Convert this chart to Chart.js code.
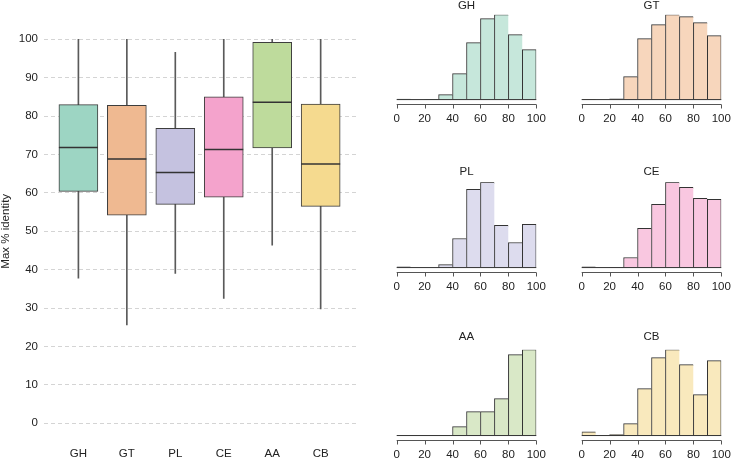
<!DOCTYPE html>
<html>
<head>
<meta charset="utf-8">
<title>Max % identity</title>
<script src="https://cdn.jsdelivr.net/npm/chart.js@4.4.1/dist/chart.umd.min.js"></script>
<style>
  html, body { margin: 0; padding: 0; background: #fff; overflow: hidden; }
  #wrap { position: relative; width: 731px; height: 459px; overflow: hidden; }
  canvas { position: absolute; }
</style>
</head>
<body>
<div id="wrap">
  <canvas id="boxChart" width="360" height="459" style="left:0;top:0"></canvas>
  <canvas id="histGH" width="165" height="129" style="left:385px;top:-1px"></canvas>
  <canvas id="histGT" width="165" height="129" style="left:570px;top:-1px"></canvas>
  <canvas id="histPL" width="165" height="131" style="left:385px;top:165px"></canvas>
  <canvas id="histCE" width="165" height="131" style="left:570px;top:165px"></canvas>
  <canvas id="histAA" width="165" height="134" style="left:385px;top:330px"></canvas>
  <canvas id="histCB" width="165" height="134" style="left:570px;top:330px"></canvas>
</div>
<script>
// Boxplot data (Max % identity per group)
const groups = ['GH', 'GT', 'PL', 'CE', 'AA', 'CB'];
const whiskerLow = [37.8, 25.6, 39.0, 32.5, 46.4, 29.8];
const quart1 = [60.4, 54.2, 57.0, 58.9, 71.7, 56.5];
const medians = [71.8, 68.8, 65.3, 71.3, 83.6, 67.5];
const quart3 = [83.0, 82.8, 76.8, 85.0, 99.2, 83.1];
const whiskerHigh = [100, 100, 96.6, 100, 100, 100];
const yTicks = [0, 10, 20, 30, 40, 50, 60, 70, 80, 90, 100];

// Histogram data (10-wide bins from 0 to 100)
const binMids = [5, 15, 25, 35, 45, 55, 65, 75, 85, 95];
const histTicks = [0, 20, 40, 60, 80, 100];
const histGH = [0.5, 0, 0.3, 5, 26, 57, 81, 85, 65, 50];
const histGT = [0.3, 0, 0.7, 23, 61, 75, 85, 83, 77, 64];
const histPL = [0.7, 0, 0, 3, 29, 78, 85, 42, 25, 43];
const histCE = [0.7, 0, 0.3, 10, 39, 63, 85, 80, 69, 68];
const histAA = [0, 0, 0, 0, 9, 24, 24, 37, 81, 86];
const histCB = [3.7, 0, 1, 12, 47, 78, 86, 71, 41, 75];

const boxColors = ['#9dd5c3', '#efb991', '#c5c2e0', '#f4a3cc', '#bedb9c', '#f5da8f'];
const histColors = ['#c6e7db', '#f7d6bc', '#dddcee', '#f9c7e0', '#d9e8c7', '#f9e9bd'];

Chart.defaults.font.family = "'Liberation Sans', Arial, sans-serif";
Chart.defaults.font.size = 11.5;
Chart.defaults.color = '#222';

// median lines across each box
const medianPlugin = {
    id: 'medians',
    afterDatasetsDraw(chart) {
        const { ctx, scales: { y } } = chart;
        const boxes = chart.getDatasetMeta(0).data;
        ctx.save();
        ctx.strokeStyle = '#333';
        ctx.lineWidth = 1.5;
        medians.forEach((m, i) => {
            const bar = boxes[i];
            const py = y.getPixelForValue(m);
            ctx.beginPath();
            ctx.moveTo(bar.x - bar.width / 2, py);
            ctx.lineTo(bar.x + bar.width / 2, py);
            ctx.stroke();
        });
        ctx.restore();
    }
};

// bar baseline (shows empty bins) plus the detached x axis with tick marks
const histAxisPlugin = {
    id: 'histAxis',
    afterDatasetsDraw(chart) {
        const { ctx, chartArea, scales: { x, y } } = chart;
        const x0 = x.getPixelForValue(histTicks[0]);
        const x1 = x.getPixelForValue(histTicks[histTicks.length - 1]);
        const base = y.getPixelForValue(0);
        const axisY = Math.round(chartArea.bottom) + 0.5;
        ctx.save();
        ctx.lineWidth = 1;
        ctx.strokeStyle = '#333';
        ctx.beginPath();
        ctx.moveTo(x0, base);
        ctx.lineTo(x1, base);
        ctx.stroke();
        ctx.strokeStyle = '#555';
        ctx.beginPath();
        ctx.moveTo(x0, axisY);
        ctx.lineTo(x1, axisY);
        histTicks.forEach(t => {
            const px = Math.round(x.getPixelForValue(t)) + 0.5;
            ctx.moveTo(px, axisY);
            ctx.lineTo(px, axisY + 4);
        });
        ctx.stroke();
        ctx.restore();
    }
};

// 1. Boxplot
new Chart(document.getElementById('boxChart'), {
    type: 'bar',
    data: {
        datasets: [{
            data: groups.map((g, i) => ({ x: i + 1, y: [quart1[i], quart3[i]] })),
            backgroundColor: boxColors,
            borderColor: '#3d3d3d',
            borderWidth: 1,
            borderSkipped: false,
            barThickness: 39,
            grouped: false
        }, {
            data: groups.map((g, i) => ({ x: i + 1, y: [whiskerLow[i], whiskerHigh[i]] })),
            backgroundColor: '#5a5a5a',
            borderWidth: 0,
            barThickness: 1,
            grouped: false
        }]
    },
    options: {
        responsive: false,
        animation: false,
        layout: { padding: { top: 23.94, right: 3, left: 0, bottom: 0 } },
        plugins: {
            legend: { display: false },
            tooltip: { enabled: false }
        },
        scales: {
            x: {
                type: 'linear',
                min: 0.29,
                max: 6.75,
                offset: false,
                afterBuildTicks: s => { s.ticks = groups.map((g, i) => ({ value: i + 1 })); },
                afterFit: s => { s.height = 20.34; },
                grid: { display: false, drawTicks: false },
                border: { display: false },
                ticks: {
                    padding: 8.4,
                    autoSkip: false,
                    maxRotation: 0,
                    callback: v => groups[v - 1]
                }
            },
            y: {
                min: -4,
                max: 104,
                afterBuildTicks: s => { s.ticks = yTicks.map(v => ({ value: v })); },
                afterFit: s => { s.width = 44; },
                grid: { color: '#d4d4d4', drawTicks: false },
                border: { display: false, dash: [4, 3] },
                ticks: { padding: 6 },
                title: {
                    display: true,
                    text: 'Max % identity',
                    padding: 0,
                    font: { lineHeight: 1 }
                }
            }
        }
    },
    plugins: [medianPlugin]
});

// 2. Histograms
function drawHist(id, title, values, fill, titleGap) {
    const peak = Math.max(...values);
    new Chart(document.getElementById(id), {
        type: 'bar',
        data: {
            datasets: [{
                data: binMids.map((m, i) => ({ x: m, y: values[i] })),
                backgroundColor: fill,
                borderColor: '#333',
                borderWidth: c => ({
                    top: 1, left: 1, bottom: 0,
                    right: c.dataIndex === binMids.length - 1 ? 1 : 0
                }),
                borderSkipped: false,
                barPercentage: 1,
                categoryPercentage: 1
            }]
        },
        options: {
            responsive: false,
            animation: false,
            layout: { padding: { left: 11.7, right: 13.7, top: 0, bottom: 0 } },
            plugins: {
                legend: { display: false },
                tooltip: { enabled: false },
                title: {
                    display: true,
                    text: title,
                    color: '#222',
                    font: { size: 11.5, weight: 'normal' },
                    padding: { top: 0, bottom: titleGap }
                }
            },
            scales: {
                x: {
                    type: 'linear',
                    min: 0,
                    max: 100,
                    offset: false,
                    afterBuildTicks: s => { s.ticks = histTicks.map(v => ({ value: v })); },
                    afterFit: s => { s.height = 24; },
                    grid: { display: false, drawTicks: true, tickLength: 4 },
                    border: { display: false },
                    ticks: { padding: 3.6, autoSkip: false, maxRotation: 0 }
                },
                y: { display: false, min: -0.052 * peak, max: peak }
            }
        },
        plugins: [histAxisPlugin]
    });
}

drawHist('histGH', 'GH', histGH, histColors[0], 1.9);
drawHist('histGT', 'GT', histGT, histColors[1], 1.9);
drawHist('histPL', 'PL', histPL, histColors[2], 3.5);
drawHist('histCE', 'CE', histCE, histColors[3], 3.5);
drawHist('histAA', 'AA', histAA, histColors[4], 5.9);
drawHist('histCB', 'CB', histCB, histColors[5], 5.9);
</script>
</body>
</html>
